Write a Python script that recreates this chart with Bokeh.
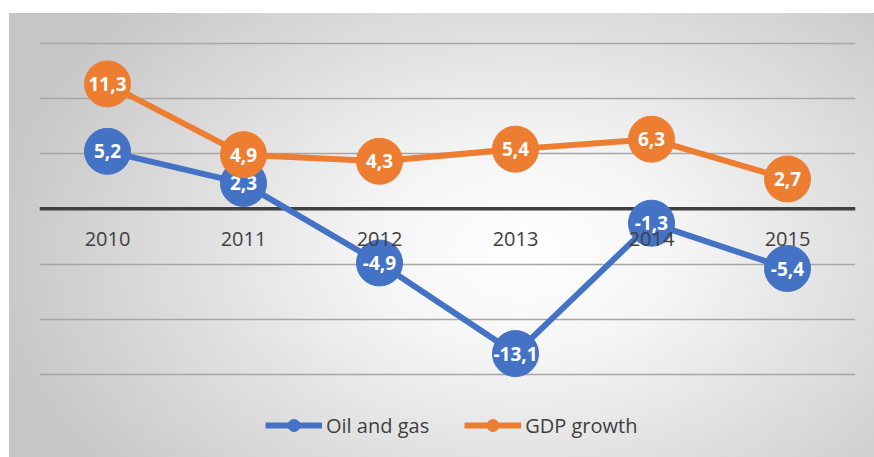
from bokeh.plotting import figure
from bokeh.models import FactorRange, Range1d, FixedTicker, Span, Legend, LegendItem, ColumnDataSource
from bokeh.core.properties import value
from bokeh.embed import file_html
from bokeh.resources import INLINE

years = ["2010", "2011", "2012", "2013", "2014", "2015"]
oil_gas = [5.2, 2.3, -4.9, -13.1, -1.3, -5.4]
gdp_growth = [11.3, 4.9, 4.3, 5.4, 6.3, 2.7]
grid_ticks = [-15, -10, -5, 0, 5, 10, 15]

BLUE = "#4472C4"
ORANGE = "#ED7D31"
FONT = "Open Sans"

def fmt(v):
    return ("%.1f" % v).replace(".", ",")

src_oil = ColumnDataSource(dict(x=years, y=oil_gas, lab=[fmt(v) for v in oil_gas]))
src_gdp = ColumnDataSource(dict(x=years, y=gdp_growth, lab=[fmt(v) for v in gdp_growth]))
src_ticks = ColumnDataSource(dict(x=years, y=[0] * len(years), lab=years))

# frame spans the gridded area plus the legend strip underneath (y down to -22.5)
p = figure(width=874, height=457, x_range=FactorRange(*years, range_padding=0),
           y_range=Range1d(-22.5, 15.5), output_backend="svg", toolbar_location=None,
           min_border_left=39, min_border_right=19, min_border_top=37, min_border_bottom=0)
p.background_fill_alpha = 0
p.border_fill_alpha = 0
p.outline_line_color = None
p.styles = {
    "background-image": "linear-gradient(#ffffff,#ffffff), linear-gradient(#ffffff,#ffffff), "
                        "radial-gradient(ellipse 62% 80% at 60% 55%, #ffffff 0%, #f5f5f5 28%, #c6c6c6 100%)",
    "background-size": "100% 13px, 9px 100%, 100% 100%",
    "background-position": "0 0, 0 0, 0 0",
    "background-repeat": "no-repeat",
}

p.xgrid.visible = False
p.ygrid.ticker = FixedTicker(ticks=grid_ticks)
p.ygrid.grid_line_color = "#a6a6a6"
p.ygrid.grid_line_width = 1.4
p.xaxis.visible = False
p.yaxis.visible = False

p.add_layout(Span(location=0, dimension="width", line_color="#404040", line_width=3.5, level="underlay"))

l_oil = p.line("x", "y", source=src_oil, line_color=BLUE, line_width=6)
s_oil = p.scatter("x", "y", source=src_oil, size=46, fill_color=BLUE, line_color=BLUE)
p.text("x", "y", text="lab", source=src_oil, text_color="white", text_font_style="bold",
       text_font_size="19px", text_align="center", text_baseline="middle", text_font=value(FONT))

l_gdp = p.line("x", "y", source=src_gdp, line_color=ORANGE, line_width=6)
s_gdp = p.scatter("x", "y", source=src_gdp, size=46, fill_color=ORANGE, line_color=ORANGE)
p.text("x", "y", text="lab", source=src_gdp, text_color="white", text_font_style="bold",
       text_font_size="19px", text_align="center", text_baseline="middle", text_font=value(FONT))

# category (x-axis) labels sitting just under the zero line
p.text("x", "y", text="lab", source=src_ticks, text_color="#404040", text_font_size="20px",
       text_align="center", text_baseline="middle", y_offset=30, text_font=value(FONT))

legend = Legend(items=[LegendItem(label="Oil and gas", renderers=[l_oil, s_oil]),
                       LegendItem(label="GDP growth", renderers=[l_gdp, s_gdp])],
                orientation="horizontal", location=(226, 17),
                label_text_font=FONT, label_text_font_size="20px", label_text_color="#404040",
                glyph_width=57, glyph_height=30, spacing=35, label_standoff=4,
                background_fill_alpha=0, border_line_color=None, margin=0, padding=0)
p.add_layout(legend, "center")

open("out.html", "w").write(file_html(p, INLINE))
